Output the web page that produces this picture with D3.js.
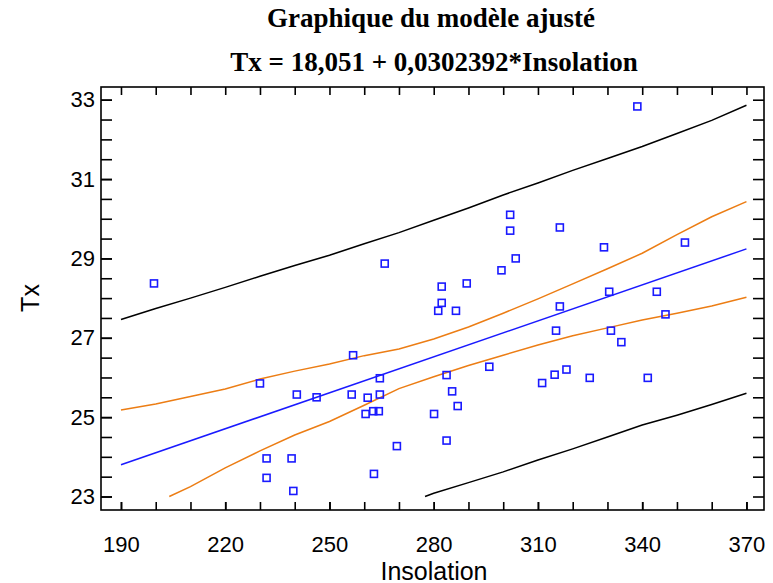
<!DOCTYPE html>
<html lang="fr">
<head>
    <meta charset="UTF-8">
    <title>Graphique du modèle ajusté</title>
    <style>
        body {
            margin: 0;
            background: #fff;
        }
        .tick text {
            font-family: Arial, "Liberation Sans", sans-serif;
            font-size: 22px;
            fill: #000;
        }
    </style>
    <script src="https://cdn.jsdelivr.net/npm/d3@7"></script>
</head>
<body>
    <script>
        // Data
        const insolation = [199.5, 230.0, 240.6, 246.3, 231.9, 239.1, 231.9, 239.6, 265.9, 282.3,
            289.5, 282.3, 281.3, 286.4, 256.8, 264.5, 283.7, 256.4, 261.0, 264.5,
            285.3, 286.9, 280.1, 260.4, 262.6, 264.2, 283.7, 262.8, 269.4, 338.6,
            302.0, 302.0, 316.3, 303.6, 299.5, 329.0, 352.3, 330.5, 344.2, 316.3,
            346.7, 315.2, 331.0, 334.0, 296.0, 311.2, 314.8, 318.2, 324.9, 341.6];
        const tx = [28.37, 25.85, 25.57, 25.50, 23.96, 23.96, 23.47, 23.14, 28.87, 28.29,
            28.37, 27.88, 27.68, 27.68, 26.56, 25.98, 26.06, 25.57, 25.49, 25.57,
            25.65, 25.28, 25.08, 25.08, 25.15, 25.15, 24.41, 23.57, 24.27, 32.83,
            30.10, 29.70, 29.78, 29.00, 28.70, 29.28, 29.40, 28.16, 28.16, 27.79,
            27.59, 27.18, 27.18, 26.89, 26.27, 25.86, 26.07, 26.20, 25.99, 25.99];

        // fitted line Tx = 18,051 + 0,0302392*Insolation (end points)
        const fitX = [190, 370];
        const fitY = [23.80, 29.24];

        const bandX = [190, 200, 210, 220, 230, 240, 250, 260, 270, 280,
            290, 300, 310, 320, 330, 340, 350, 360, 370];
        const predUpper = [27.46, 27.74, 28.00, 28.27, 28.55, 28.82, 29.08, 29.37, 29.65, 29.96,
            30.27, 30.60, 30.90, 31.22, 31.52, 31.82, 32.15, 32.48, 32.86];
        const confUpper = [25.18, 25.33, 25.52, 25.71, 25.96, 26.16, 26.34, 26.55, 26.72, 26.97,
            27.27, 27.62, 27.98, 28.36, 28.74, 29.13, 29.60, 30.05, 30.43];

        const confLowerX = [203.9, 210, 220, 230, 240, 250, 260, 270, 280,
            290, 300, 310, 320, 330, 340, 350, 360, 370];
        const confLower = [23.0, 23.25, 23.72, 24.15, 24.55, 24.89, 25.30, 25.72, 26.02,
            26.30, 26.56, 26.82, 27.05, 27.25, 27.45, 27.62, 27.80, 28.02];

        const predLowerX = [277.5, 280, 290, 300, 310, 320, 330, 340, 350, 360, 370];
        const predLower = [23.0, 23.08, 23.35, 23.62, 23.92, 24.20, 24.50, 24.80, 25.05, 25.32, 25.60];

        const xTicks = [190, 220, 250, 280, 310, 340, 370];
        const yTicks = [23, 25, 27, 29, 31, 33];

        const width = 773;
        const height = 583;
        const plotL = 101, plotR = 764, plotT = 87, plotB = 510;

        const svg = d3.select("body").append("svg")
            .attr("width", width).attr("height", height);

        const x = d3.scaleLinear().domain([184.25, 375.05]).range([plotL, plotR]);
        const y = d3.scaleLinear().domain([22.66, 33.32]).range([plotB, plotT]);

        // Title
        const title = svg.append("g")
            .attr("font-family", "'Times New Roman', 'Liberation Serif', serif")
            .attr("font-weight", "bold")
            .attr("font-size", 27)
            .attr("text-anchor", "middle");
        title.append("text").attr("x", 431).attr("y", 27).text("Graphique du modèle ajusté");
        title.append("text").attr("x", 434).attr("y", 71).text("Tx = 18,051 + 0,0302392*Insolation");

        // Axes
        const minorX = d3.range(190, 371, 10);
        const minorY = d3.range(23, 33.01, 0.5);

        svg.append("g").attr("transform", `translate(0,${plotB})`)
            .call(d3.axisBottom(x).tickValues(xTicks).tickSize(-8).tickPadding(26).tickSizeOuter(0))
            .call(g => g.select(".domain").remove());
        svg.append("g").attr("transform", `translate(0,${plotB})`)
            .call(d3.axisBottom(x).tickValues(minorX).tickSize(-8).tickFormat("").tickSizeOuter(0))
            .call(g => g.select(".domain").remove());
        svg.append("g").attr("transform", `translate(0,${plotT})`)
            .call(d3.axisTop(x).tickValues(minorX).tickSize(-8).tickFormat("").tickSizeOuter(0))
            .call(g => g.select(".domain").remove());

        svg.append("g").attr("transform", `translate(${plotL},0)`)
            .call(d3.axisLeft(y).tickValues(yTicks).tickSize(-11).tickPadding(6).tickSizeOuter(0))
            .call(g => g.select(".domain").remove());
        svg.append("g").attr("transform", `translate(${plotL},0)`)
            .call(d3.axisLeft(y).tickValues(minorY).tickSize(-11).tickFormat("").tickSizeOuter(0))
            .call(g => g.select(".domain").remove());
        svg.append("g").attr("transform", `translate(${plotR},0)`)
            .call(d3.axisRight(y).tickValues(minorY).tickSize(-11).tickFormat("").tickSizeOuter(0))
            .call(g => g.select(".domain").remove());

        svg.selectAll(".tick line").attr("stroke", "#000").attr("stroke-width", 1.6);

        svg.append("rect")
            .attr("x", plotL).attr("y", plotT)
            .attr("width", plotR - plotL).attr("height", plotB - plotT)
            .attr("fill", "none").attr("stroke", "#000").attr("stroke-width", 1.6);

        // Axis titles
        svg.append("text")
            .attr("x", 434).attr("y", 580)
            .attr("text-anchor", "middle")
            .attr("font-family", "Arial, 'Liberation Sans', sans-serif")
            .attr("font-size", 25)
            .text("Insolation");
        svg.append("text")
            .attr("transform", "translate(39,298) rotate(-90)")
            .attr("text-anchor", "middle")
            .attr("font-family", "Arial, 'Liberation Sans', sans-serif")
            .attr("font-size", 25)
            .text("Tx");

        // Lines
        const line = d3.line().x(d => x(d[0])).y(d => y(d[1]));
        const curves = [
            { xs: bandX, ys: predUpper, color: "#000" },
            { xs: predLowerX, ys: predLower, color: "#000" },
            { xs: bandX, ys: confUpper, color: "#ec7d14" },
            { xs: confLowerX, ys: confLower, color: "#ec7d14" },
            { xs: fitX, ys: fitY, color: "#1a1aff" }
        ];
        svg.append("g").selectAll("path")
            .data(curves)
            .join("path")
            .attr("d", c => line(c.xs.map((v, i) => [v, c.ys[i]])))
            .attr("fill", "none")
            .attr("stroke", c => c.color)
            .attr("stroke-width", 1.5);

        // Points
        svg.append("g").selectAll("rect")
            .data(insolation)
            .join("rect")
            .attr("x", (d) => x(d) - 3.5)
            .attr("y", (d, i) => y(tx[i]) - 3.5)
            .attr("width", 7)
            .attr("height", 7)
            .attr("fill", "none")
            .attr("stroke", "#1a1aff")
            .attr("stroke-width", 1.6);
    </script>
</body>
</html>
